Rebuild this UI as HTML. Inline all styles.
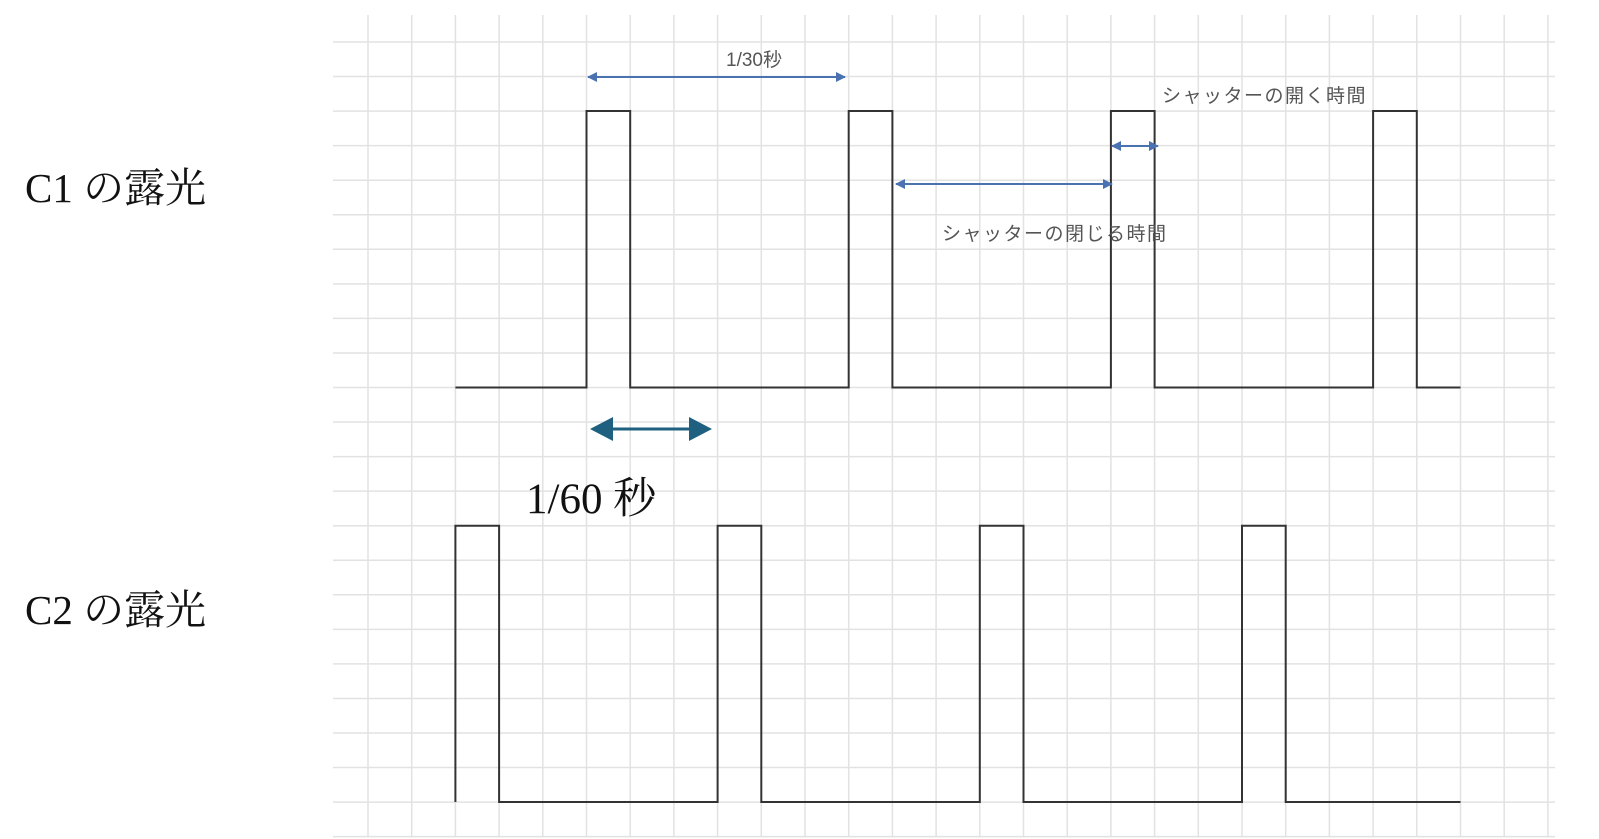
<!DOCTYPE html>
<html><head><meta charset="utf-8"><style>
html,body{margin:0;padding:0;background:#fff;}
svg{display:block;}
.s{font-family:"Liberation Sans","Noto Sans CJK JP",sans-serif;fill:#555;font-size:19px;}
.b{font-family:"Liberation Serif","Noto Serif CJK SC",serif;fill:#111;}
</style></head><body>
<svg width="1599" height="839" viewBox="0 0 1599 839" xmlns="http://www.w3.org/2000/svg">
<defs>
<marker id="a" markerWidth="10" markerHeight="10" refX="9" refY="5" orient="auto-start-reverse" markerUnits="userSpaceOnUse"><path d="M0,0 L10,5 L0,10 Z" fill="#4a72b0"/></marker>
</defs>
<g stroke="#e2e2e2" stroke-width="1.5">
<script></script>
</g>
<g id="grid" stroke="#e2e2e2" stroke-width="1.5"></g>
<path d="M455.4 387.5 H586.5 V111 H630.2 V387.5 H848.7 V111 H892.4 V387.5 H1110.9 V111 H1154.6 V387.5 H1373.1 V111 H1416.8 V387.5 H1460.5" fill="none" stroke="#333" stroke-width="2"/>
<path d="M455.4 802 V525.7 H499.1 V802 H717.6 V525.7 H761.3 V802 H979.8 V525.7 H1023.5 V802 H1242 V525.7 H1285.7 V802 H1460.5" fill="none" stroke="#333" stroke-width="2"/>
<line x1="588" y1="77" x2="845" y2="77" stroke="#4a72b0" stroke-width="2" marker-start="url(#a)" marker-end="url(#a)"/>
<line x1="896" y1="184" x2="1112" y2="184" stroke="#4a72b0" stroke-width="2" marker-start="url(#a)" marker-end="url(#a)"/>
<line x1="1112" y1="146" x2="1158" y2="146" stroke="#4a72b0" stroke-width="2" marker-start="url(#a)" marker-end="url(#a)"/>
<line x1="610" y1="429" x2="690" y2="429" stroke="#1f6080" stroke-width="3"/>
<path d="M590 429 L613 417 L613 441 Z" fill="#1f6080"/>
<path d="M712 429 L689 417 L689 441 Z" fill="#1f6080"/>
<text class="s" x="754" y="66" text-anchor="middle" font-size="18">1/30秒</text>
<text class="s" x="1162" y="102" letter-spacing="1.5">シャッターの開く時間</text>
<text class="s" x="942" y="240" letter-spacing="1.5">シャッターの閉じる時間</text>
<text class="b" x="25" y="202" font-size="41">C1 の露光</text>
<text class="b" x="25" y="624" font-size="41">C2 の露光</text>
<text class="b" x="526" y="513" font-size="43">1/60 秒</text>
</svg>
<script>
var g=document.getElementById('grid'),ns='http://www.w3.org/2000/svg';
for(var k=0;k<=27;k++){var x=368+43.7*k;var l=document.createElementNS(ns,'line');l.setAttribute('x1',x);l.setAttribute('x2',x);l.setAttribute('y1',15);l.setAttribute('y2',837);g.appendChild(l);}
for(var k=0;k<=23;k++){var y=42+34.55*k;var l=document.createElementNS(ns,'line');l.setAttribute('y1',y);l.setAttribute('y2',y);l.setAttribute('x1',333);l.setAttribute('x2',1555);g.appendChild(l);}
</script>
</body></html>
